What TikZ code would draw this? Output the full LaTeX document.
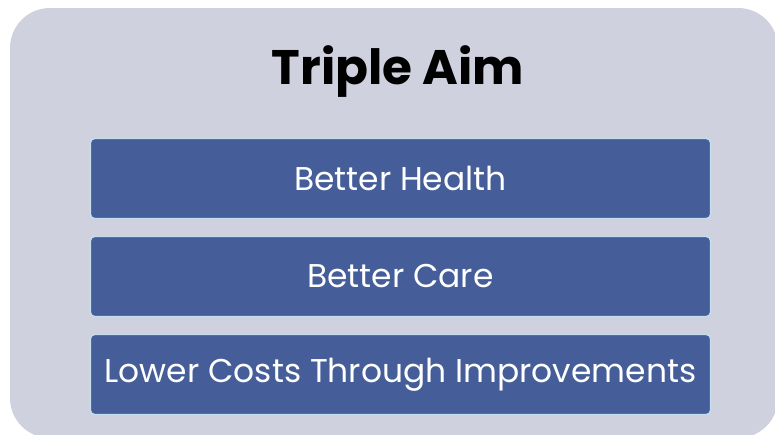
\documentclass[tikz,border=0pt]{standalone}
\usepackage{fontspec}
\setmainfont{Poppins}
\usepackage{tikz}

\definecolor{panelgray}{RGB}{207,209,223}
\definecolor{aimblue}{RGB}{69,94,154}
\definecolor{aimedge}{RGB}{196,222,238}

\begin{document}
\begin{tikzpicture}[x=0.025cm,y=-0.025cm,
                aim node/.style={rectangle,rounded corners=3pt,fill=aimblue,draw=aimedge,line width=1pt,
                minimum width=15.5cm,minimum height=2cm,text=white,font=\fontsize{23.4}{28}\selectfont}]

            \useasboundingbox (0,0) rectangle (775,434);
            \clip (0,0) rectangle (775,434);
            \fill[panelgray, rounded corners=1cm] (10,8) rectangle (778,438);

            \node[font=\fontsize{34.5}{40}\selectfont\bfseries, anchor=base] (T) at (398,84) {Triple Aim};
            \node[aim node] (H) at (400.5,178.5) {Better Health};
            \node[aim node] (C) at (400.5,276.5) {Better Care};
            \node[aim node] (L) at (400.5,374.5) {Lower Costs Through Improvements};

        \end{tikzpicture}
\end{document}
